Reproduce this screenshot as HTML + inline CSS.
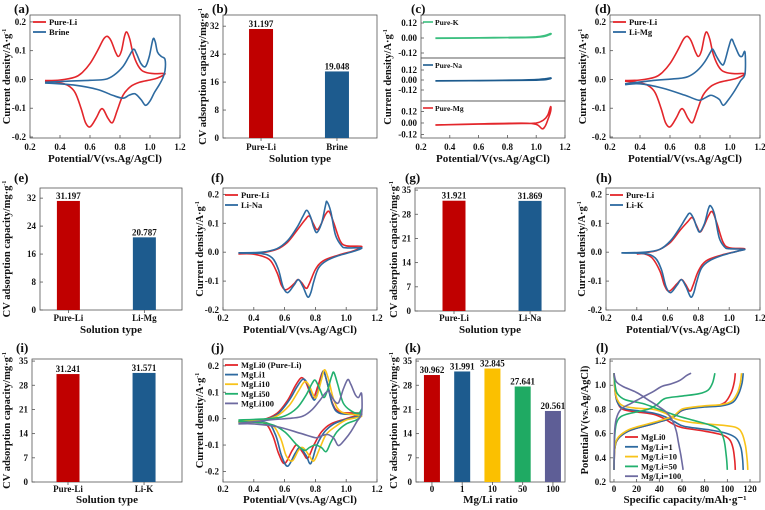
<!DOCTYPE html>
<html><head><meta charset="utf-8"><style>
html,body{margin:0;padding:0;background:#fff;}
svg{display:block;font-family:"Liberation Serif",serif;font-weight:bold;}
</style></head><body>
<svg id="fig" width="765" height="510" viewBox="0 0 765 510"></svg>
<script>
// ---------- DATA ----------
const cvXTicks=[0.2,0.4,0.6,0.8,1.0,1.2];
const cvYTicks=[0.2,0.1,0.0,-0.1,-0.2];
const a_pureLi=[[0.3,-0.004],[0.4,-0.002],[0.5,0.008],[0.55,0.025],[0.6,0.055],[0.65,0.1],[0.69,0.14],[0.715,0.15],[0.74,0.135],[0.77,0.095],[0.79,0.08],[0.81,0.1],[0.83,0.15],[0.845,0.165],[0.865,0.14],[0.89,0.085],[0.93,0.04],[0.97,0.025],[1.03,0.02],[1.1,0.02],[1.05,0.005],[1.0,-0.002],[0.93,-0.01],[0.87,-0.025],[0.82,-0.055],[0.78,-0.11],[0.75,-0.15],[0.72,-0.135],[0.69,-0.105],[0.67,-0.105],[0.64,-0.135],[0.6,-0.165],[0.57,-0.15],[0.54,-0.1],[0.5,-0.045],[0.45,-0.02],[0.38,-0.01],[0.3,-0.006]];
const a_brine=[[0.3,-0.01],[0.45,-0.006],[0.6,-0.003],[0.7,0.0],[0.76,0.015],[0.82,0.045],[0.86,0.08],[0.89,0.105],[0.91,0.09],[0.94,0.055],[0.97,0.045],[0.995,0.08],[1.02,0.14],[1.035,0.13],[1.05,0.095],[1.075,0.08],[1.1,0.07],[1.1,0.03],[1.085,0.005],[1.06,-0.02],[1.03,-0.045],[1.0,-0.075],[0.97,-0.09],[0.94,-0.07],[0.9,-0.05],[0.86,-0.055],[0.82,-0.065],[0.75,-0.055],[0.65,-0.035],[0.5,-0.02],[0.3,-0.012]];
const d_liMg=[[0.3,-0.015],[0.5,-0.003],[0.65,0.003],[0.72,0.01],[0.78,0.03],[0.83,0.06],[0.87,0.095],[0.885,0.105],[0.91,0.08],[0.94,0.055],[0.96,0.055],[0.99,0.11],[1.01,0.14],[1.03,0.12],[1.06,0.085],[1.08,0.08],[1.1,0.095],[1.1,0.02],[1.07,-0.005],[1.03,-0.04],[0.99,-0.07],[0.955,-0.09],[0.93,-0.07],[0.9,-0.06],[0.87,-0.055],[0.83,-0.065],[0.79,-0.072],[0.7,-0.055],[0.55,-0.03],[0.4,-0.015],[0.3,-0.018]];
const f_pureLi=[[0.3,-0.005],[0.45,-0.002],[0.55,0.01],[0.62,0.035],[0.68,0.075],[0.73,0.11],[0.76,0.125],[0.785,0.1],[0.81,0.078],[0.835,0.095],[0.865,0.13],[0.89,0.14],[0.92,0.1],[0.96,0.04],[1.0,0.022],[1.1,0.02],[1.05,0.005],[0.95,-0.01],[0.85,-0.03],[0.8,-0.06],[0.76,-0.11],[0.74,-0.125],[0.71,-0.105],[0.685,-0.095],[0.66,-0.11],[0.61,-0.13],[0.58,-0.115],[0.55,-0.07],[0.5,-0.025],[0.4,-0.007],[0.3,-0.006]];
const f_liNa=[[0.3,-0.002],[0.45,0],[0.55,0.012],[0.62,0.04],[0.68,0.085],[0.72,0.125],[0.745,0.145],[0.77,0.12],[0.79,0.085],[0.81,0.068],[0.84,0.1],[0.865,0.16],[0.875,0.175],[0.9,0.14],[0.93,0.06],[0.97,0.022],[1.0,0.015],[1.1,0.015],[1.05,0.003],[0.95,-0.012],[0.87,-0.03],[0.82,-0.055],[0.79,-0.1],[0.77,-0.14],[0.75,-0.155],[0.72,-0.12],[0.69,-0.095],[0.66,-0.115],[0.62,-0.14],[0.59,-0.12],[0.56,-0.06],[0.52,-0.02],[0.45,-0.005],[0.3,-0.003]];
const h_pureLi=[[0.4,-0.005],[0.5,0.002],[0.55,0.01],[0.62,0.035],[0.68,0.075],[0.73,0.105],[0.76,0.12],[0.785,0.095],[0.81,0.07],[0.835,0.09],[0.865,0.125],[0.89,0.14],[0.92,0.1],[0.96,0.035],[1.0,0.015],[1.1,0.012],[1.05,0.003],[0.95,-0.01],[0.85,-0.03],[0.8,-0.065],[0.765,-0.115],[0.745,-0.135],[0.715,-0.11],[0.69,-0.095],[0.66,-0.11],[0.61,-0.135],[0.58,-0.115],[0.55,-0.065],[0.5,-0.02],[0.45,-0.006],[0.4,-0.006]];
const h_liK=[[0.3,-0.002],[0.45,0],[0.55,0.01],[0.62,0.04],[0.68,0.085],[0.72,0.12],[0.745,0.135],[0.77,0.115],[0.79,0.085],[0.81,0.07],[0.84,0.1],[0.865,0.15],[0.88,0.16],[0.905,0.13],[0.935,0.05],[0.97,0.018],[1.0,0.012],[1.1,0.01],[1.05,0.003],[0.95,-0.012],[0.87,-0.03],[0.82,-0.055],[0.79,-0.1],[0.77,-0.14],[0.75,-0.155],[0.72,-0.12],[0.69,-0.095],[0.66,-0.115],[0.62,-0.14],[0.59,-0.12],[0.56,-0.06],[0.52,-0.02],[0.45,-0.005],[0.3,-0.003]];
const j_mgli0=[[0.3,-0.01],[0.45,-0.005],[0.55,0.02],[0.62,0.07],[0.67,0.125],[0.71,0.155],[0.74,0.135],[0.77,0.09],[0.79,0.08],[0.82,0.13],[0.85,0.18],[0.875,0.14],[0.91,0.06],[0.96,0.025],[1.1,0.02],[1.0,0.0],[0.9,-0.02],[0.84,-0.05],[0.79,-0.1],[0.75,-0.15],[0.72,-0.13],[0.68,-0.1],[0.65,-0.12],[0.6,-0.17],[0.56,-0.13],[0.52,-0.06],[0.46,-0.015],[0.3,-0.012]];
const j_mgli1=[[0.3,-0.012],[0.45,-0.005],[0.55,0.015],[0.63,0.07],[0.68,0.12],[0.72,0.15],[0.75,0.13],[0.78,0.08],[0.8,0.075],[0.83,0.13],[0.85,0.18],[0.875,0.14],[0.91,0.055],[0.96,0.02],[1.1,0.015],[1.0,-0.002],[0.92,-0.02],[0.86,-0.05],[0.81,-0.1],[0.77,-0.17],[0.74,-0.14],[0.7,-0.11],[0.67,-0.13],[0.62,-0.18],[0.58,-0.14],[0.54,-0.06],[0.48,-0.015],[0.3,-0.015]];
const j_mgli10=[[0.3,-0.01],[0.45,-0.006],[0.55,0.01],[0.63,0.05],[0.69,0.105],[0.73,0.14],[0.76,0.125],[0.79,0.085],[0.81,0.085],[0.84,0.15],[0.86,0.185],[0.885,0.15],[0.92,0.07],[0.97,0.025],[1.1,0.01],[1.0,-0.005],[0.93,-0.03],[0.87,-0.06],[0.83,-0.11],[0.79,-0.16],[0.76,-0.14],[0.72,-0.11],[0.69,-0.12],[0.65,-0.16],[0.61,-0.14],[0.57,-0.07],[0.5,-0.02],[0.3,-0.013]];
const j_mgli50=[[0.3,-0.005],[0.5,0.0],[0.6,0.01],[0.68,0.04],[0.74,0.09],[0.78,0.135],[0.8,0.145],[0.83,0.11],[0.855,0.08],[0.88,0.11],[0.905,0.16],[0.92,0.175],[0.945,0.13],[0.98,0.06],[1.03,0.03],[1.08,0.02],[1.1,0.035],[1.08,0.0],[1.0,-0.02],[0.94,-0.05],[0.9,-0.09],[0.87,-0.125],[0.84,-0.11],[0.8,-0.1],[0.76,-0.11],[0.73,-0.12],[0.68,-0.1],[0.6,-0.05],[0.5,-0.02],[0.3,-0.01]];
const j_mgli100=[[0.3,-0.018],[0.5,-0.005],[0.65,0.002],[0.72,0.01],[0.78,0.035],[0.83,0.07],[0.87,0.1],[0.89,0.1],[0.92,0.07],[0.95,0.06],[0.98,0.11],[1.01,0.148],[1.03,0.13],[1.06,0.09],[1.08,0.08],[1.1,0.095],[1.1,0.02],[1.07,-0.01],[1.03,-0.05],[0.99,-0.08],[0.95,-0.102],[0.92,-0.075],[0.88,-0.06],[0.84,-0.065],[0.8,-0.072],[0.7,-0.055],[0.55,-0.03],[0.4,-0.02],[0.3,-0.02]];
const c_pureK=[[0.3,0.0],[0.6,0.002],[0.9,0.006],[1.0,0.01],[1.06,0.02],[1.1,0.035],[1.09,0.025],[1.0,0.006],[0.6,0.0],[0.3,-0.002]];
const c_pureNa=[[0.3,-0.01],[0.6,-0.006],[0.9,0.0],[1.0,0.005],[1.06,0.015],[1.1,0.025],[1.09,0.012],[1.0,-0.002],[0.6,-0.008],[0.3,-0.012]];
const c_pureMg=[[0.3,-0.02],[0.6,-0.012],[0.9,-0.005],[1.0,0.0],[1.05,0.03],[1.08,0.08],[1.1,0.17],[1.1,0.12],[1.08,0.03],[1.06,-0.04],[1.04,-0.06],[1.0,-0.015],[0.9,-0.002],[0.6,-0.01],[0.3,-0.022]];
const cYTicks=[0.12,0.00,-0.12];
// bar charts
const bCats=["Pure-Li","Brine"], bVals=[31.197,19.048], bLabels=["31.197","19.048"], bTicks=[0,8,16,24,32];
const eCats=["Pure-Li","Li-Mg"], eVals=[31.197,20.787], eLabels=["31.197","20.787"], eTicks=[0,8,16,24,32];
const gCats=["Pure-Li","Li-Na"], gVals=[31.921,31.869], gLabels=["31.921","31.869"], gTicks=[0,7,14,21,28,35];
const iCats=["Pure-Li","Li-K"], iVals=[31.241,31.571], iLabels=["31.241","31.571"], iTicks=[0,7,14,21,28,35];
const kCats=["0","1","10","50","100"], kVals=[30.962,31.991,32.845,27.641,20.561], kLabels=["30.962","31.991","32.845","27.641","20.561"], kTicks=[0,7,14,21,28,35];
// charge/discharge (l)
const lXTicks=[0,20,40,60,80,100,120], lYTicks=[0.2,0.4,0.6,0.8,1.0,1.2];
const l0c=[[0,0.3],[0.5,0.45],[2,0.53],[6,0.58],[15,0.63],[30,0.67],[45,0.71],[53,0.74],[58,0.78],[63,0.8],[75,0.82],[90,0.83],[98,0.86],[103,0.93],[106,1.02],[107,1.1]];
const l0d=[[0,1.1],[1,0.95],[3,0.86],[8,0.8],[20,0.78],[35,0.76],[45,0.72],[52,0.68],[60,0.65],[80,0.62],[95,0.59],[102,0.55],[105,0.48],[106.5,0.38],[107,0.3]];
const l1c=[[0,0.3],[0.5,0.45],[2,0.53],[6,0.58],[15,0.63],[30,0.67],[45,0.71],[53,0.74],[58,0.78],[63,0.8],[80,0.82],[95,0.83],[105,0.86],[110,0.93],[113,1.02],[114,1.1]];
const l1d=[[0,1.1],[1,0.95],[3,0.86],[8,0.81],[20,0.79],[35,0.77],[45,0.74],[53,0.7],[62,0.66],[85,0.63],[100,0.6],[108,0.56],[112,0.48],[113.5,0.38],[114,0.3]];
const l10c=[[0,0.3],[0.5,0.46],[2,0.54],[6,0.59],[15,0.64],[30,0.68],[45,0.72],[53,0.75],[58,0.79],[63,0.81],[80,0.83],[95,0.84],[104,0.87],[109,0.94],[111.5,1.02],[112.5,1.1]];
const l10d=[[0,1.1],[1,0.96],[3,0.88],[8,0.83],[20,0.81],[35,0.8],[45,0.77],[55,0.72],[70,0.69],[95,0.67],[108,0.65],[113,0.6],[116,0.5],[117.5,0.38],[118,0.3]];
const l50c=[[0,0.3],[0.5,0.55],[2,0.68],[6,0.74],[15,0.77],[30,0.8],[38,0.84],[45,0.89],[60,0.91],[75,0.93],[83,0.96],[87,1.02],[89,1.1]];
const l50d=[[0,1.1],[1,1.0],[3,0.93],[10,0.88],[25,0.85],[40,0.8],[55,0.75],[70,0.71],[85,0.67],[93,0.63],[97,0.55],[99,0.42],[100,0.3]];
const l100c=[[0,0.3],[0.5,0.6],[2,0.72],[6,0.8],[15,0.85],[25,0.9],[35,0.95],[42,0.99],[50,1.01],[58,1.04],[64,1.08],[68,1.1]];
const l100d=[[0,1.1],[2,1.03],[8,0.99],[20,0.94],[30,0.88],[40,0.82],[47,0.77],[52,0.7],[55,0.62],[57,0.52],[59,0.42],[61,0.3]];

// ---------- DRAWING ----------
const NS='http://www.w3.org/2000/svg';
const svg=document.getElementById('fig');
function el(tag,attrs,parent){const e=document.createElementNS(NS,tag);for(const k in attrs)e.setAttribute(k,attrs[k]);(parent||svg).appendChild(e);return e;}
function txt(x,y,s,size,anchor,parent){const t=el('text',{x:x,y:y,'font-size':size,'text-anchor':anchor||'middle',fill:'#111'},parent);t.textContent=s;return t;}
function scale(d0,d1,r0,r1){return v=>r0+(v-d0)*(r1-r0)/(d1-d0);}
function smooth(pts){let d='M'+pts[0][0].toFixed(1)+','+pts[0][1].toFixed(1);
 for(let i=0;i<pts.length-1;i++){const p0=pts[i-1]||pts[i],p1=pts[i],p2=pts[i+1],p3=pts[i+2]||p2;
  const c1=[p1[0]+(p2[0]-p0[0])/6,p1[1]+(p2[1]-p0[1])/6],c2=[p2[0]-(p3[0]-p1[0])/6,p2[1]-(p3[1]-p1[1])/6];
  d+='C'+c1[0].toFixed(1)+','+c1[1].toFixed(1)+' '+c2[0].toFixed(1)+','+c2[1].toFixed(1)+' '+p2[0].toFixed(1)+','+p2[1].toFixed(1);}
 return d;}
function box(b,g){const r=el('rect',{x:b.x0,y:b.y0,width:b.x1-b.x0,height:b.y1-b.y0,fill:'none',stroke:'#555','stroke-width':0.8},g);
 
 }
function panelLabel(x,y,s,g){const t=txt(x,y,s,13,'start',g);
 
 }
function yTitle(x,cy,s,g){const t=txt(x,cy,'',10.5,'middle',g);t.setAttribute('transform','rotate(-90 '+x+' '+cy+')');t.innerHTML=s;
 
 }
function xTitle(cx,y,s,g){const t=txt(cx,y,s,11,'middle',g);
 
 }
function yTicks(b,sy,ticks,fmt,g){ticks.forEach(v=>{const y=sy(v);el('line',{x1:b.x0,x2:b.x0+3,y1:y,y2:y,stroke:'#555','stroke-width':0.8},g);
 const t=txt(b.x0-4,y+3,fmt(v),9,'end',g);
 
 });}
function xTicks(b,sx,ticks,fmt,yl,g){ticks.forEach(v=>{const x=sx(v);el('line',{x1:x,x2:x,y1:b.y1,y2:b.y1-3,stroke:'#555','stroke-width':0.8},g);
 const t=txt(x,yl,fmt(v),9,'middle',g);
 
 });}
function series(pts,sx,sy,color,g,name){const p=el('path',{d:smooth(pts.map(q=>[sx(q[0]),sy(q[1])])),fill:'none',stroke:color,'stroke-width':1.6,'stroke-linejoin':'round'},g);
 
 }
function legend(x,y,dy,items,g){items.forEach((it,i)=>{const yy=y+i*dy;el('line',{x1:x,x2:x+13,y1:yy-3,y2:yy-3,stroke:it[1],'stroke-width':1.8},g);
 const t=txt(x+16,yy,it[0],8.5,'start',g);
 
 });}
const RED='#e3262b',BLUE='#2d6aa0',YEL='#f8c31a',GRN='#22b06e',PUR='#6d6aa0';
const f1=v=>v.toFixed(1), f2=v=>v.toFixed(2), f0=v=>String(v);

function cvPanel(o){const g=el('g',{});
 
 
 const b=o.b;const sx=scale(0.2,1.2,b.x0,b.x1);const sy=scale(o.yr[0],o.yr[1],b.y1,b.y0);
 box(b,g);yTicks(b,sy,cvYTicks,f1,g);xTicks(b,sx,cvXTicks,f1,o.xl,g);
 o.series.forEach(s=>series(s[0],sx,sy,s[1],g,s[2]));
 legend(o.lx,o.ly,o.ldy||10,o.series.map(s=>[s[3],s[1]]),g);
 panelLabel(o.px,o.py,o.label,g);yTitle(o.tx,(b.y0+b.y1)/2,'Current density/A·g<tspan dy="-4" font-size="6">-1</tspan>',g);
 xTitle((b.x0+b.x1)/2,o.xt,'Potential/V(vs.Ag/AgCl)',g);}

function barPanel(o){const g=el('g',{});
 
 
 const b=o.b;const sy=scale(0,o.ymax,b.y1,b.y0);box(b,g);yTicks(b,sy,o.ticks,f0,g);
 const w=b.x1-b.x0;
 o.cats.forEach((c,i)=>{const cx=b.x0+w*(o.start+o.step*i);const top=sy(o.vals[i]);
  const r=el('rect',{x:cx-o.bw/2,y:top,width:o.bw,height:b.y1-top,fill:o.colors[i]},g);
  
  
  const v=txt(cx,top-2,o.labels[i],9,'middle',g);
  
  
  el('line',{x1:cx,x2:cx,y1:b.y1,y2:b.y1+3,stroke:'#555','stroke-width':0.8},g);
  const t=txt(cx,o.xl,c,9,'middle',g);
  
  });
 panelLabel(o.px,o.py,o.label,g);
 yTitle(o.tx,(b.y0+b.y1)/2,'CV adsorption capacity/mg·g<tspan dy="-4" font-size="6">-1</tspan>',g);
 xTitle((b.x0+b.x1)/2,o.xt,o.xtitle,g);}

// (a)
cvPanel({name:'panel-a',b:{x0:30,x1:180,y0:15,y1:138},yr:[-0.2035,0.224],xl:150,xt:162,px:14,py:13,label:'(a)',tx:10,lx:33,ly:25,
 series:[[a_pureLi,RED,'series-pure-li','Pure-Li'],[a_brine,BLUE,'series-brine','Brine']]});
// (b)
barPanel({name:'panel-b',b:{x0:223,x1:377,y0:15,y1:138},ymax:35.2,ticks:bTicks,cats:bCats,vals:bVals,labels:bLabels,colors:['#c00000','#1d5b8e'],start:0.247,step:0.493,bw:24,xl:150,xt:162,px:212,py:13,label:'(b)',tx:206,xtitle:'Solution type'});
// (c)
(function(){const g=el('g',{});
 
 
 const x0=421,x1=565;const sx=scale(0.2,1.2,x0,x1);
 const subs=[{y0:15,y1:58,yr:[-0.16,0.184],d:c_pureK,c:'#3bbf7f',n:'Pure-K'},{y0:58,y1:101,yr:[-0.252,0.264],d:c_pureNa,c:'#1d5b8e',n:'Pure-Na'},{y0:101,y1:138,yr:[-0.157,0.23],d:c_pureMg,c:RED,n:'Pure-Mg'}];
 subs.forEach(s=>{const b={x0:x0,x1:x1,y0:s.y0,y1:s.y1};const sy=scale(s.yr[0],s.yr[1],s.y1,s.y0);box(b,g);yTicks(b,sy,cYTicks,f2,g);
  series(s.d,sx,sy,s.c,g,'series-'+s.n.toLowerCase());
  el('line',{x1:x0+2,x2:x0+12,y1:s.y0+7,y2:s.y0+7,stroke:s.c,'stroke-width':1.6},g);
  const t=txt(x0+14,s.y0+10,s.n,7.5,'start',g);
  
  });
 xTicks({x0:x0,x1:x1,y0:15,y1:138},sx,cvXTicks,f1,150,g);
 panelLabel(411,13,'(c)',g);yTitle(391,77,'Current density/A·g<tspan dy="-4" font-size="6">-1</tspan>',g);
 xTitle(493,162,'Potential/V(vs.Ag/AgCl)',g);})();
// (d)
cvPanel({name:'panel-d',b:{x0:610,x1:760,y0:15,y1:138},yr:[-0.2035,0.224],xl:150,xt:162,px:595,py:13,label:'(d)',tx:586,lx:613,ly:25,
 series:[[a_pureLi,RED,'series-pure-li','Pure-Li'],[d_liMg,BLUE,'series-li-mg','Li-Mg']]});
// (e)
barPanel({name:'panel-e',b:{x0:40,x1:182,y0:188,y1:310},ymax:34.9,ticks:eTicks,cats:eCats,vals:eVals,labels:eLabels,colors:['#c00000','#1d5b8e'],start:0.2,step:0.535,bw:23,xl:321,xt:333,px:14,py:182,label:'(e)',tx:10,xtitle:'Solution type'});
// (f)
cvPanel({name:'panel-f',b:{x0:223,x1:377,y0:188,y1:310},yr:[-0.2,0.222],xl:321,xt:333,px:211,py:182,label:'(f)',tx:203,lx:225,ly:198,
 series:[[f_pureLi,RED,'series-pure-li','Pure-Li'],[f_liNa,BLUE,'series-li-na','Li-Na']]});
// (g)
barPanel({name:'panel-g',b:{x0:415,x1:565,y0:188,y1:311},ymax:35.6,ticks:gTicks,cats:gCats,vals:gVals,labels:gLabels,colors:['#c00000','#1d5b8e'],start:0.26,step:0.507,bw:23,xl:321,xt:333,px:405,py:182,label:'(g)',tx:397,xtitle:'Solution type'});
// (h)
cvPanel({name:'panel-h',b:{x0:606,x1:760,y0:188,y1:310},yr:[-0.2,0.222],xl:321,xt:333,px:596,py:182,label:'(h)',tx:585,lx:610,ly:198,
 series:[[h_pureLi,RED,'series-pure-li','Pure-Li'],[h_liK,BLUE,'series-li-k','Li-K']]});
// (i)
barPanel({name:'panel-i',b:{x0:32,x1:182,y0:359,y1:482},ymax:35.6,ticks:iTicks,cats:iCats,vals:iVals,labels:iLabels,colors:['#c00000','#1d5b8e'],start:0.24,step:0.507,bw:23,xl:492,xt:503,px:16,py:352,label:'(i)',tx:10,xtitle:'Solution type'});
// (j)
cvPanel({name:'panel-j',b:{x0:223,x1:377,y0:359,y1:482},yr:[-0.24,0.226],xl:492,xt:503,px:211,py:352,label:'(j)',tx:203,lx:225,ly:368,ldy:9.6,
 series:[[j_mgli0,RED,'series-mgli0','MgLi0 (Pure-Li)'],[j_mgli1,BLUE,'series-mgli1','MgLi1'],[j_mgli10,YEL,'series-mgli10','MgLi10'],[j_mgli50,GRN,'series-mgli50','MgLi50'],[j_mgli100,PUR,'series-mgli100','MgLi100']]});
// (k)
barPanel({name:'panel-k',b:{x0:416,x1:565,y0:359,y1:482},ymax:35.6,ticks:kTicks,cats:kCats,vals:kVals,labels:kLabels,colors:['#c00000','#1d5b8e','#fbc000','#1faa63','#5e5e96'],start:0.107,step:0.203,bw:16,xl:492,xt:503,px:405,py:352,label:'(k)',tx:397,xtitle:'Mg/Li ratio'});
// (l)
(function(){const g=el('g',{});
 
 
 const b={x0:610,x1:760,y0:359,y1:482};const sx=scale(-3.5,128.8,b.x0,b.x1);const sy=scale(0.2,1.217,b.y1,b.y0);
 box(b,g);yTicks(b,sy,lYTicks,f1,g);xTicks(b,sx,lXTicks,f0,492,g);
 const S=[[l0c,l0d,RED,'MgLi0'],[l1c,l1d,BLUE,'Mg/Li=1'],[l10c,l10d,YEL,'Mg/Li=10'],[l50c,l50d,GRN,'Mg/Li=50'],[l100c,l100d,PUR,'Mg/Li=100']];
 S.forEach(s=>{series(s[0],sx,sy,s[2],g,'charge-curve');series(s[1],sx,sy,s[2],g,'discharge-curve');});
 legend(625,440,9.8,S.map(s=>[s[3],s[2]]),g);
 panelLabel(596,352,'(l)',g);yTitle(588,420,'Potential/V(vs.Ag/AgCl)',g);
 xTitle(685,503,'Specific capacity/mAh·g⁻¹',g);})();
</script>
</body></html>
